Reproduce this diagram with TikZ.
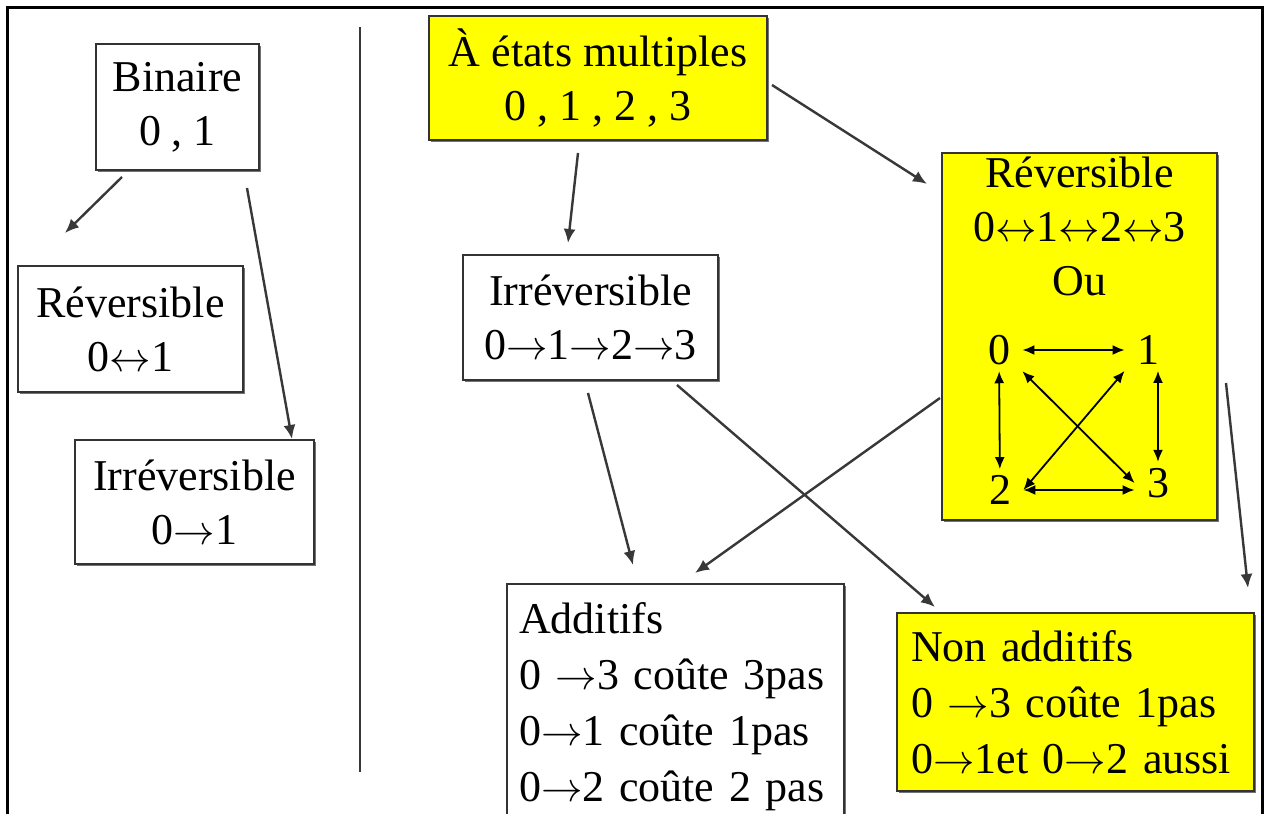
\documentclass[tikz,border=0pt]{standalone}
\usepackage{fontspec}
\setmainfont{Liberation Serif}
\usetikzlibrary{arrows.meta,shadows}
\definecolor{boxline}{HTML}{333333}
\definecolor{arrowgray}{HTML}{383838}
\definecolor{jaune}{HTML}{FFFF00}
\newcommand{\va}{$\rightarrow$}
\newcommand{\vv}{$\leftrightarrow$}

\begin{document}
\begin{tikzpicture}[x=0.5pt,y=-0.5pt,
    every node/.style={font=\fontsize{22}{27}\selectfont},
    box/.style={draw=boxline, line width=1pt, fill=white, align=center, inner sep=0pt,
      drop shadow={shadow xshift=1pt,shadow yshift=-1pt,fill=black!55,opacity=1}},
    jbox/.style={box, fill=jaune},
    fleche/.style={draw=arrowgray, line width=1.2pt, -{Latex[length=7pt,width=6pt]}},
    vaetvient/.style={draw=black, line width=0.9pt, {Latex[length=6pt,width=5pt]}-{Latex[length=6pt,width=5pt]}}]

  \clip (0,0) rectangle (1266,814);
  \fill[white] (0,0) rectangle (1266,814);

  \draw[line width=1.5pt] (7,830) -- (7,7) -- (1262,7) -- (1262,830);
  \draw[draw=arrowgray, line width=1pt] (360,27) -- (360,772);

  \node[box, minimum width=81.5pt, minimum height=63pt] (bin) at (177.5,107) {Binaire\\0 , 1};
  \node[box, minimum width=112.5pt, minimum height=63pt] (revg) at (130.5,329) {Réversible\\0\vv1};
  \node[box, minimum width=119.5pt, minimum height=62pt] (irrg) at (194.5,502) {Irréversible\\0\va1};

  \node[jbox, minimum width=169pt, minimum height=62pt] (multi) at (598,78) {À états multiples\\0 , 1 , 2 , 3};
  \node[box, minimum width=127.5pt, minimum height=62.5pt] (irrd) at (590.5,317.5) {Irréversible\\0\va1\va2\va3};
  \node[jbox, minimum width=137.5pt, minimum height=183.5pt] (revd) at (1079.5,336.5) {};
  \node[anchor=north, align=center, inner sep=0pt] (revtxt) at (1079.5,157) {Réversible\\0\vv1\vv2\vv3\\Ou};

  \node[box, anchor=north west, align=left, text width=156.5pt, inner xsep=6pt, inner ysep=9.5pt,
    font=\fontsize{22}{28}\selectfont] (add) at (506,583)
    {Additifs\\0 \va3 coûte 3pas\\0\va1 coûte 1pas\\0\va2 coûte 2 pas};
  \node[jbox, anchor=north west, align=left, text width=164.5pt, inner xsep=7pt, minimum height=89pt,
    font=\fontsize{22}{28}\selectfont] (nonadd) at (896,612)
    {Non additifs\\0 \va3 coûte 1pas\\0\va1et 0\va2 aussi};

  \begin{scope}[every node/.style={font=\fontsize{22}{27}\selectfont, inner xsep=6pt, inner ysep=3pt}]
    \node (e0) at (999,350) {0};
    \node (e1) at (1148,350) {1};
    \node (e2) at (1000,490) {2};
    \node (e3) at (1158,483) {3};
  \end{scope}

  \path[vaetvient] (e0) -- (e1);
  \path[vaetvient] (e0) -- (e2);
  \path[vaetvient] (e3.north |- e1.south) -- (e3.north);
  \path[vaetvient] (e2.east) -- (e2.east -| e3.west);
  \path[vaetvient] (e0.south east) -- (e3.west);
  \path[vaetvient] (e1.south west) -- (e2.east);

  \coordinate (bin-a) at (122,177);
  \coordinate (bin-b) at (247,188);
  \coordinate (revg-n) at (65,233);
  \coordinate (irrg-n) at (292,439);
  \coordinate (multi-a) at (578,153);
  \coordinate (multi-b) at (772,85);
  \coordinate (irrd-n) at (568,243);
  \coordinate (revd-n) at (927,184);
  \coordinate (irrd-a) at (588,393);
  \coordinate (irrd-b) at (677,385);
  \coordinate (revd-a) at (940,398);
  \coordinate (revd-b) at (1226,383);
  \coordinate (add-a) at (633,565);
  \coordinate (add-b) at (695,573);
  \coordinate (nonadd-a) at (935,607);
  \coordinate (nonadd-b) at (1248,588);

  \path[fleche] (bin-a) -- (revg-n);
  \path[fleche] (bin-b) -- (irrg-n);
  \path[fleche] (multi-a) -- (irrd-n);
  \path[fleche] (multi-b) -- (revd-n);
  \path[fleche] (irrd-a) -- (add-a);
  \path[fleche] (revd-a) -- (add-b);
  \path[fleche] (irrd-b) -- (nonadd-a);
  \path[fleche] (revd-b) -- (nonadd-b);
\end{tikzpicture}
\end{document}
